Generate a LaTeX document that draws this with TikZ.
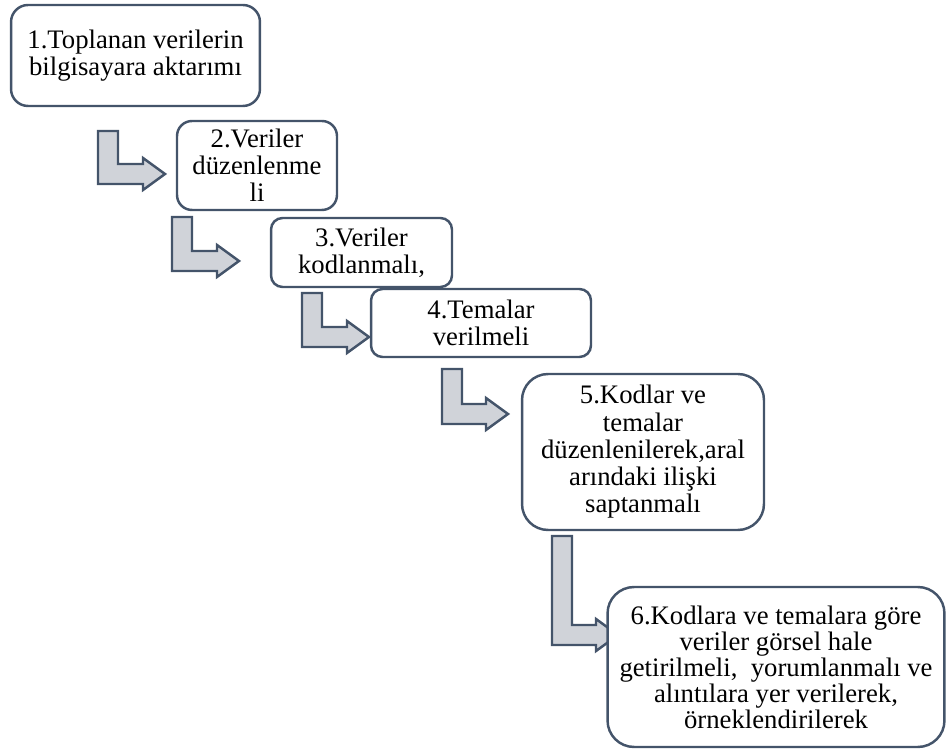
\documentclass[tikz,border=0pt]{standalone}
\usepackage{fontspec}
\setmainfont{Liberation Serif}
\definecolor{edgeblue}{HTML}{44546A}
\definecolor{arrowgray}{HTML}{D0D3D9}
\tikzset{
  stepbox/.style={draw=edgeblue,line width=1.4pt,fill=white,align=center,inner sep=2pt,font=\fontsize{15.2}{15.5}\selectfont},
  bentarrow/.style={draw=edgeblue,line width=1.4pt,fill=arrowgray,line join=miter}
}
\newcommand{\bentarrow}[4]{\draw[bentarrow] ({#1-10},#2) -- ({#1+10},#2) -- ({#1+10},{#3-10}) -- ({#4-22},{#3-10}) -- ({#4-22},{#3-16}) -- (#4,#3) -- ({#4-22},{#3+16}) -- ({#4-22},{#3+10}) -- ({#1-10},{#3+10}) -- cycle;}
\begin{document}
\begin{tikzpicture}[x=0.02cm,y=-0.02cm]
\useasboundingbox (0,0) rectangle (947,749);
\bentarrow{108}{131}{174}{165}
\bentarrow{182}{217}{261}{239}
\bentarrow{312}{293}{337}{369}
\bentarrow{452}{369}{414}{508}
\bentarrow{562}{536}{635}{618}
\node[stepbox,minimum width=4.98cm,minimum height=2.02cm,rounded corners=0.34cm] at (135.5,55.5) (b1) {1.Toplanan verilerin\\bilgisayara aktarımı};
\node[stepbox,minimum width=3.2cm,minimum height=1.78cm,rounded corners=0.3cm] at (257,165.5) (b2) {2.Veriler\\düzenlenme\\li};
\node[stepbox,minimum width=3.62cm,minimum height=1.38cm,rounded corners=0.23cm] at (361.5,252.5) (b3) {3.Veriler\\kodlanmalı,};
\node[stepbox,minimum width=4.4cm,minimum height=1.36cm,rounded corners=0.23cm] at (481,323) (b4) {4.Temalar\\verilmeli};
\node[stepbox,minimum width=4.84cm,minimum height=3.12cm,rounded corners=0.52cm] at (643,452) (b5) {5.Kodlar ve\\temalar\\düzenlenilerek,aral\\arındaki ilişki\\saptanmalı};
\node[stepbox,font=\fontsize{15.2}{13.8}\selectfont,minimum width=6.74cm,minimum height=3.2cm,rounded corners=0.53cm] at (776,667) (b6) {6.Kodlara ve temalara göre\\veriler görsel hale\\getirilmeli,\ \ yorumlanmalı ve\\alıntılara yer verilerek,\\örneklendirilerek};
\end{tikzpicture}
\end{document}
